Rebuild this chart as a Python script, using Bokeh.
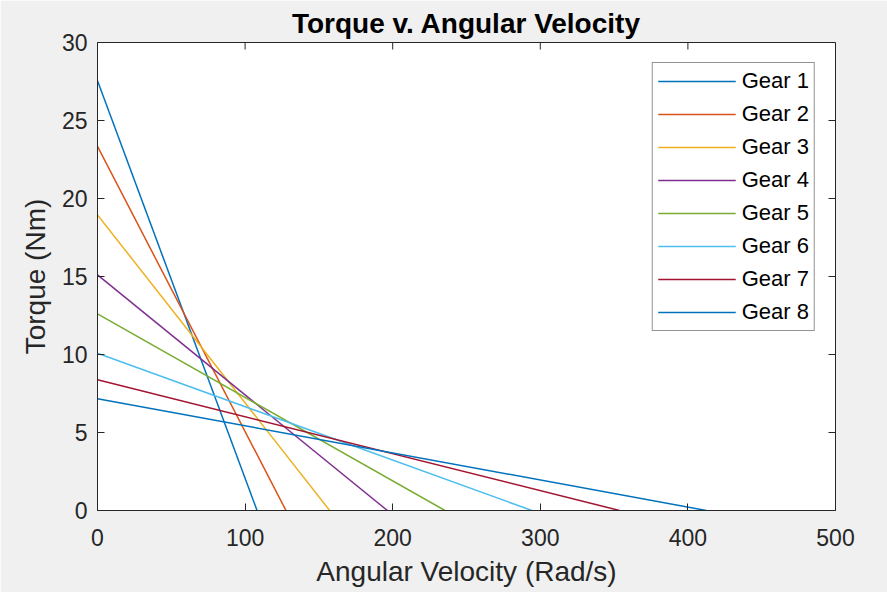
import math
from bokeh.plotting import figure
from bokeh.models import Range1d, Legend, LegendItem, FixedTicker
from bokeh.embed import file_html
from bokeh.resources import INLINE

gears = ["Gear 1", "Gear 2", "Gear 3", "Gear 4", "Gear 5", "Gear 6", "Gear 7", "Gear 8"]
stall_torque = [27.55, 23.35, 18.95, 15.1, 12.6, 10.08, 8.38, 7.17]
max_speed = [108.1, 127.7, 157.3, 196.4, 235.4, 294.3, 353.7, 412.5]
colors = ["#0072BD", "#D95319", "#EDB120", "#7E2F8E", "#77AC30", "#4DBEEE", "#A2142F", "#0072BD"]
x_ticks = [0, 100, 200, 300, 400, 500]
y_ticks = [0, 5, 10, 15, 20, 25, 30]

FONT = "Liberation Sans"
AX = "#262626"

p = figure(width=887, height=592, output_backend="svg", toolbar_location=None,
           x_range=Range1d(x_ticks[0], x_ticks[-1]), y_range=Range1d(y_ticks[0], y_ticks[-1]),
           min_border_left=97, min_border_right=52, min_border_top=42, min_border_bottom=82,
           background_fill_color="white", border_fill_color="#F0F0F0",
           outline_line_color=AX, outline_line_width=1)

p.title.text = "Torque v. Angular Velocity"
p.title.align = "center"
p.title.text_font = FONT
p.title.text_font_size = "28px"
p.title.text_font_style = "bold"
p.title.text_color = "black"
p.title.offset = 0
p.title.standoff = 8

p.xgrid.visible = False
p.ygrid.visible = False

def style(ax, ticks):
    ax.ticker = FixedTicker(ticks=ticks)
    ax.major_tick_in = 7
    ax.major_tick_out = 0
    ax.minor_tick_line_color = None
    ax.axis_line_color = AX
    ax.major_tick_line_color = AX
    ax.major_label_text_font = FONT
    ax.major_label_text_font_size = "23px"
    ax.major_label_text_color = AX
    ax.axis_label_text_font = FONT
    ax.axis_label_text_font_size = "28px"
    ax.axis_label_text_font_style = "normal"
    ax.axis_label_text_color = AX

style(p.xaxis[0], x_ticks)
style(p.yaxis[0], y_ticks)
p.xaxis[0].axis_label = "Angular Velocity (Rad/s)"
p.yaxis[0].axis_label = "Torque (Nm)"
p.xaxis[0].major_label_standoff = 18
p.xaxis[0].axis_label_standoff = 7
p.yaxis[0].major_label_standoff = 10
p.yaxis[0].axis_label_standoff = 8

# inward ticks on the top and right edges of the box
p.ray(x=x_ticks, y=[y_ticks[-1]] * len(x_ticks), length=7, length_units="screen",
      angle=-math.pi / 2, line_color=AX, line_width=1)
p.ray(x=[x_ticks[-1]] * len(y_ticks), y=y_ticks, length=7, length_units="screen",
      angle=math.pi, line_color=AX, line_width=1)

items = []
for g, t, s, c in zip(gears, stall_torque, max_speed, colors):
    r = p.line(x=[0, s], y=[t, 0], line_color=c, line_width=1.5)
    items.append(LegendItem(label=g, renderers=[r]))

legend = Legend(items=items, location="top_right")
legend.label_text_font = FONT
legend.label_text_font_size = "22px"
legend.label_text_color = "black"
legend.glyph_width = 78
legend.glyph_height = 22
legend.label_height = 22
legend.spacing = 7
legend.padding = 5
legend.margin = 20
legend.label_standoff = 6
legend.border_line_color = AX
legend.border_line_width = 1
legend.background_fill_color = "white"
legend.background_fill_alpha = 1
p.add_layout(legend, "center")

open("out.html", "w").write(file_html(p, INLINE))
